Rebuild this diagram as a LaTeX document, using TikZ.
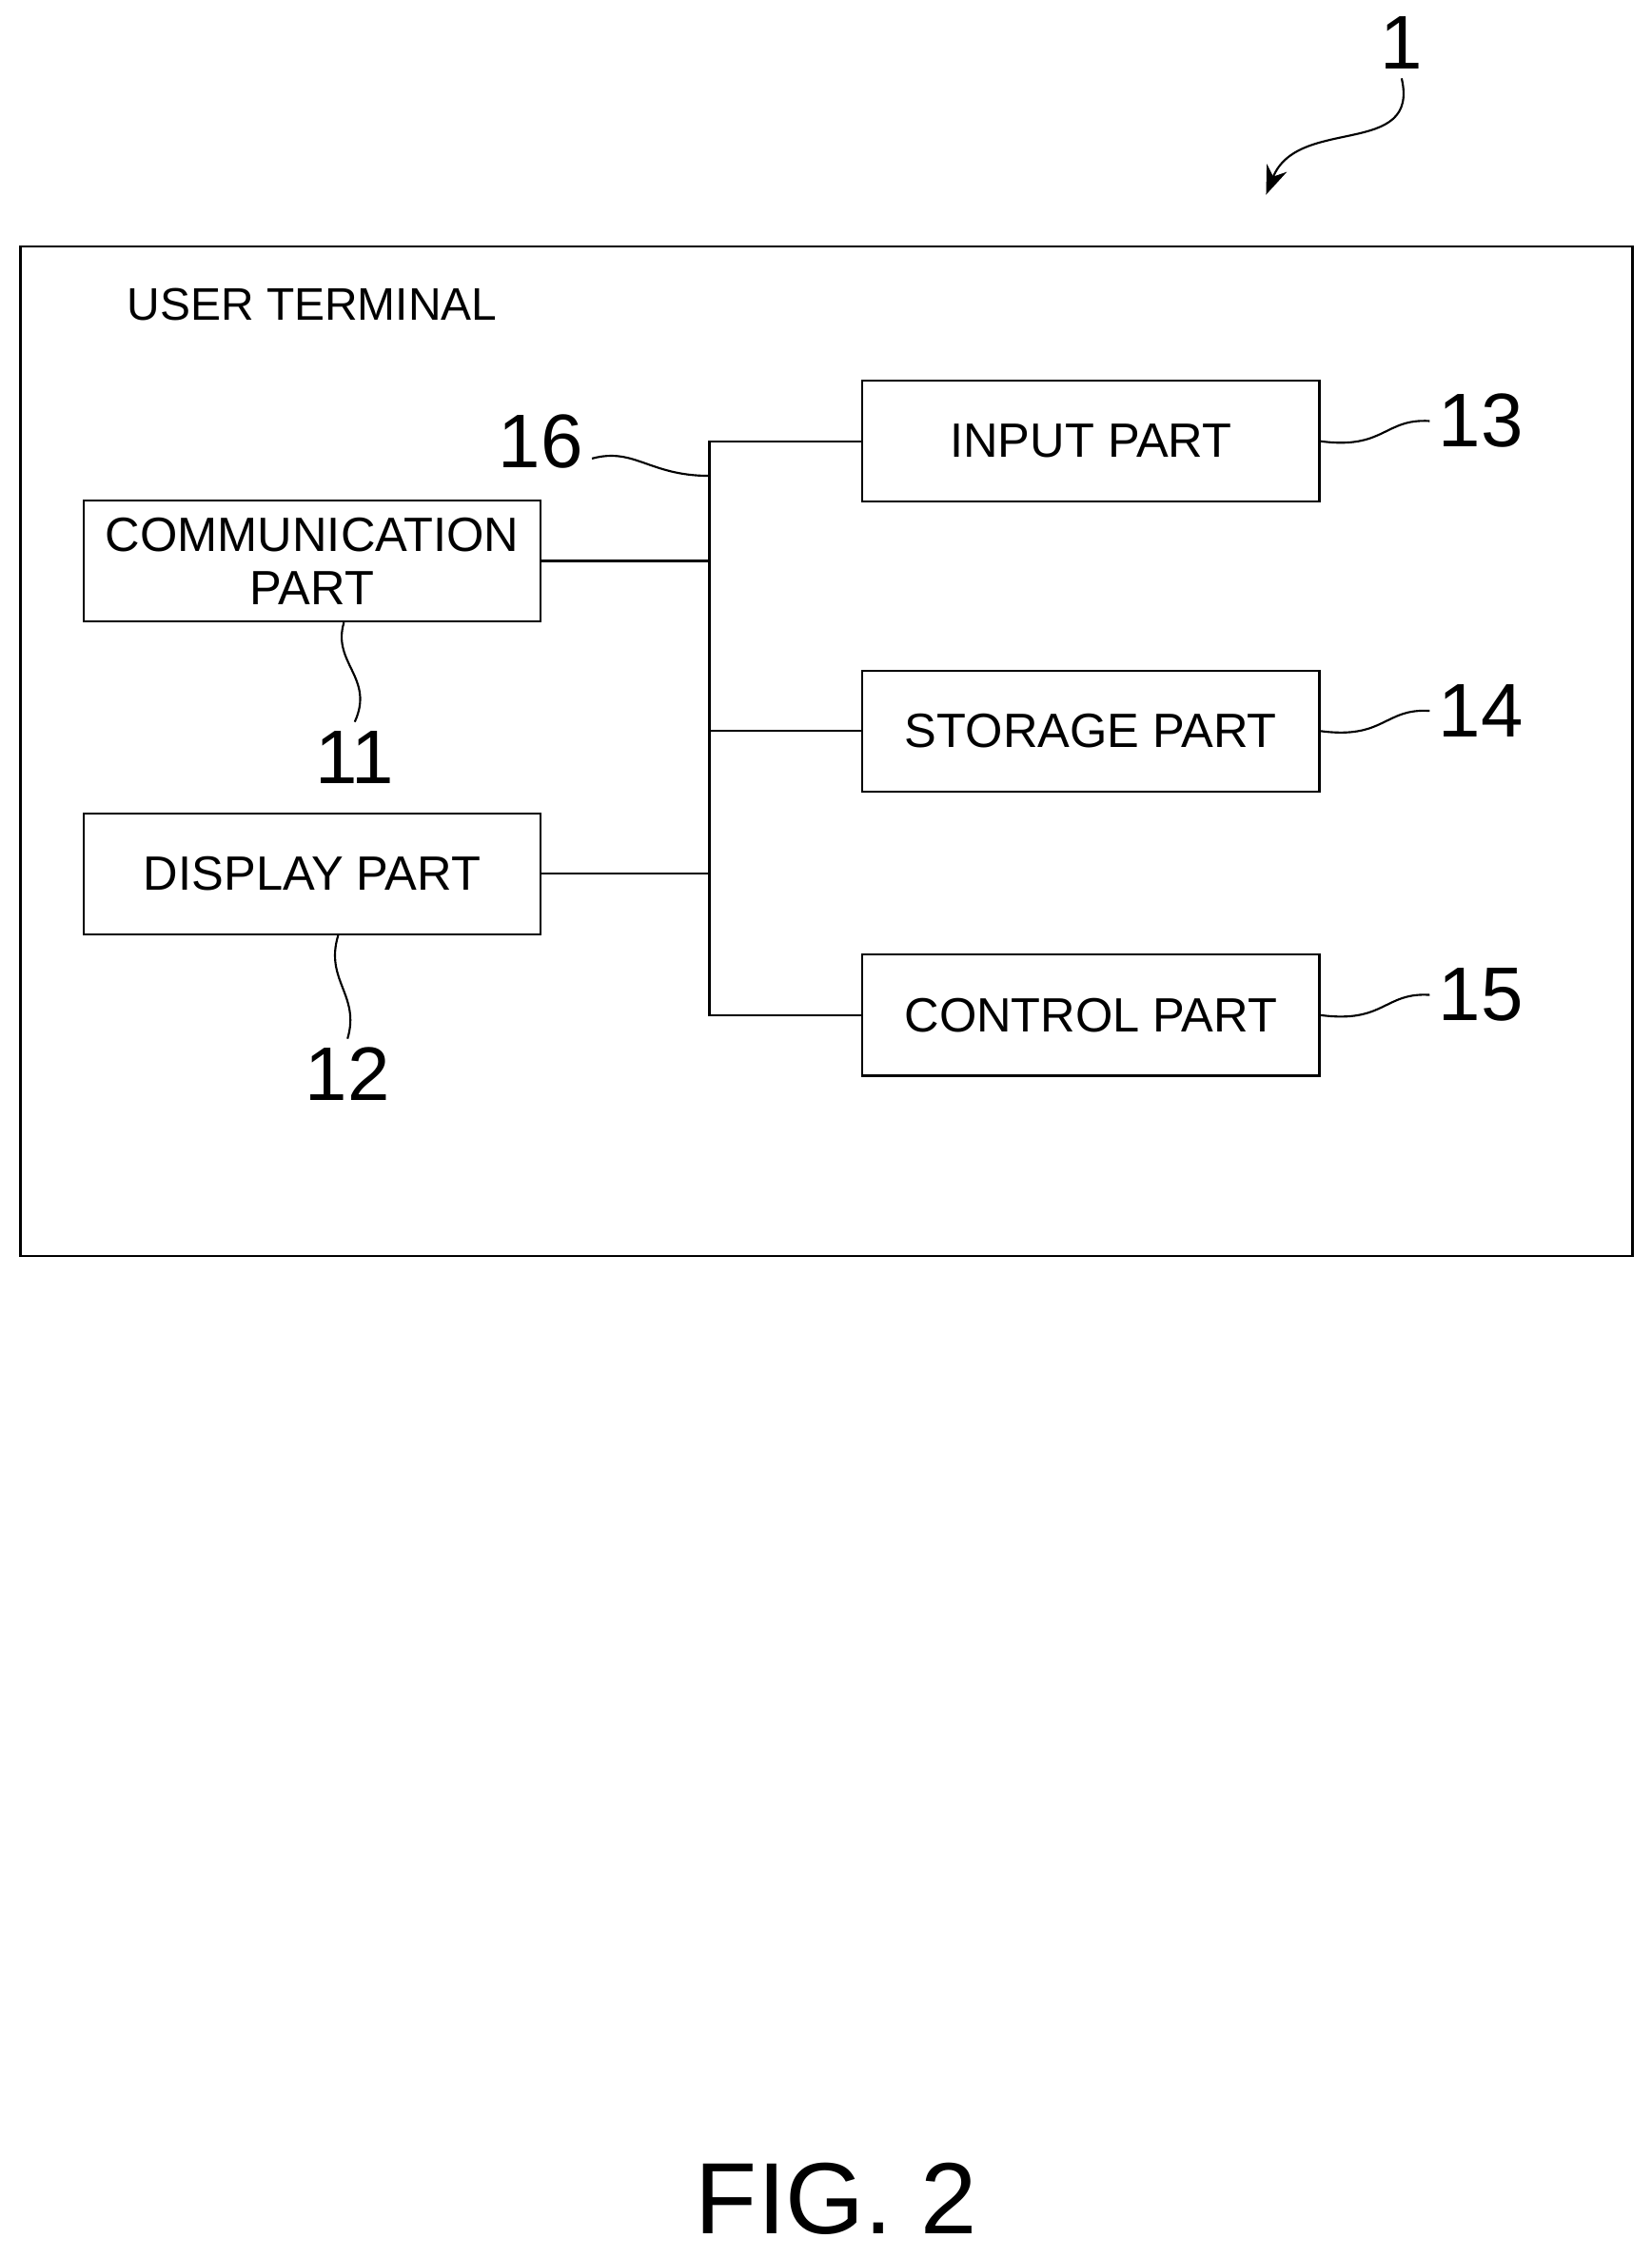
\documentclass[tikz,border=0pt]{standalone}
\usepackage{fontspec}
\setmainfont{Liberation Sans}
\usetikzlibrary{arrows.meta, positioning}

\begin{document}
\begin{tikzpicture}[x=0.02cm, y=-0.02cm,
    box/.style={rectangle, draw, line width=0.8pt, minimum width=6.34cm, minimum height=1.68cm, align=center, font=\fontsize{19}{21}\selectfont},
    num/.style={font=\fontsize{30}{32}\selectfont},
    lead/.style={line width=0.8pt},
    bus/.style={line width=0.8pt}
  ]
    \useasboundingbox (0,0) rectangle (1145,1566);
    \draw[line width=1pt] (14,171) rectangle (1132,871);
    \node[anchor=west, font=\fontsize{18}{20}\selectfont] (title) at (82,211) {USER TERMINAL};

    \node[box] (comm) at (216.5,389) {COMMUNICATION\\PART};
    \node[box] (disp) at (216.5,606) {DISPLAY PART};
    \node[box] (input) at (756.5,306) {INPUT PART};
    \node[box] (stor) at (756.5,507) {STORAGE PART};
    \node[box] (ctrl) at (756.5,704) {CONTROL PART};

    % bus
    \coordinate (btop) at (492,306);
    \coordinate (bbot) at (492,704);
    \draw[bus] (input.west) -- (btop) -- (bbot) -- (ctrl.west);
    \draw[bus] (comm.east) -- (comm.east -| btop);
    \draw[bus] (disp.east) -- (disp.east -| btop);
    \draw[bus] (stor.west) -- (stor.west -| btop);

    % reference numerals
    \node[num] (n16) at (375,306) {16};
    \node[num] (n11) at (246,525) {11};
    \node[num] (n12) at (241,745) {12};
    \node[num] (n13) at (1027,292) {13};
    \node[num] (n14) at (1027,493) {14};
    \node[num] (n15) at (1027,690) {15};
    \node[num] (n1) at (972,30) {1};
    \coordinate (b16) at (492,330);

    \draw[lead] (n16.east) ++(0,12) .. controls (440,310) and (450,330) .. (b16);
    \draw[lead] (comm.south) ++(22,0) .. controls (230,460) and (260,470) .. (n11.north);
    \draw[lead] (disp.south) ++(18,0) .. controls (225,680) and (250,690) .. (n12.north);
    \draw[lead] (input.east) .. controls (960,312) and (960,290) .. (n13.west);
    \draw[lead] (stor.east) .. controls (960,513) and (960,491) .. (n14.west);
    \draw[lead] (ctrl.east) .. controls (960,710) and (960,688) .. (n15.west);
    \draw[lead, -{Stealth[length=4mm, width=3mm]}] (n1.south) .. controls (985,110) and (900,80) .. (878,135);

    \node[font=\fontsize{40}{42}\selectfont] (fig) at (580,1525) {FIG. 2};
\end{tikzpicture}
\end{document}
